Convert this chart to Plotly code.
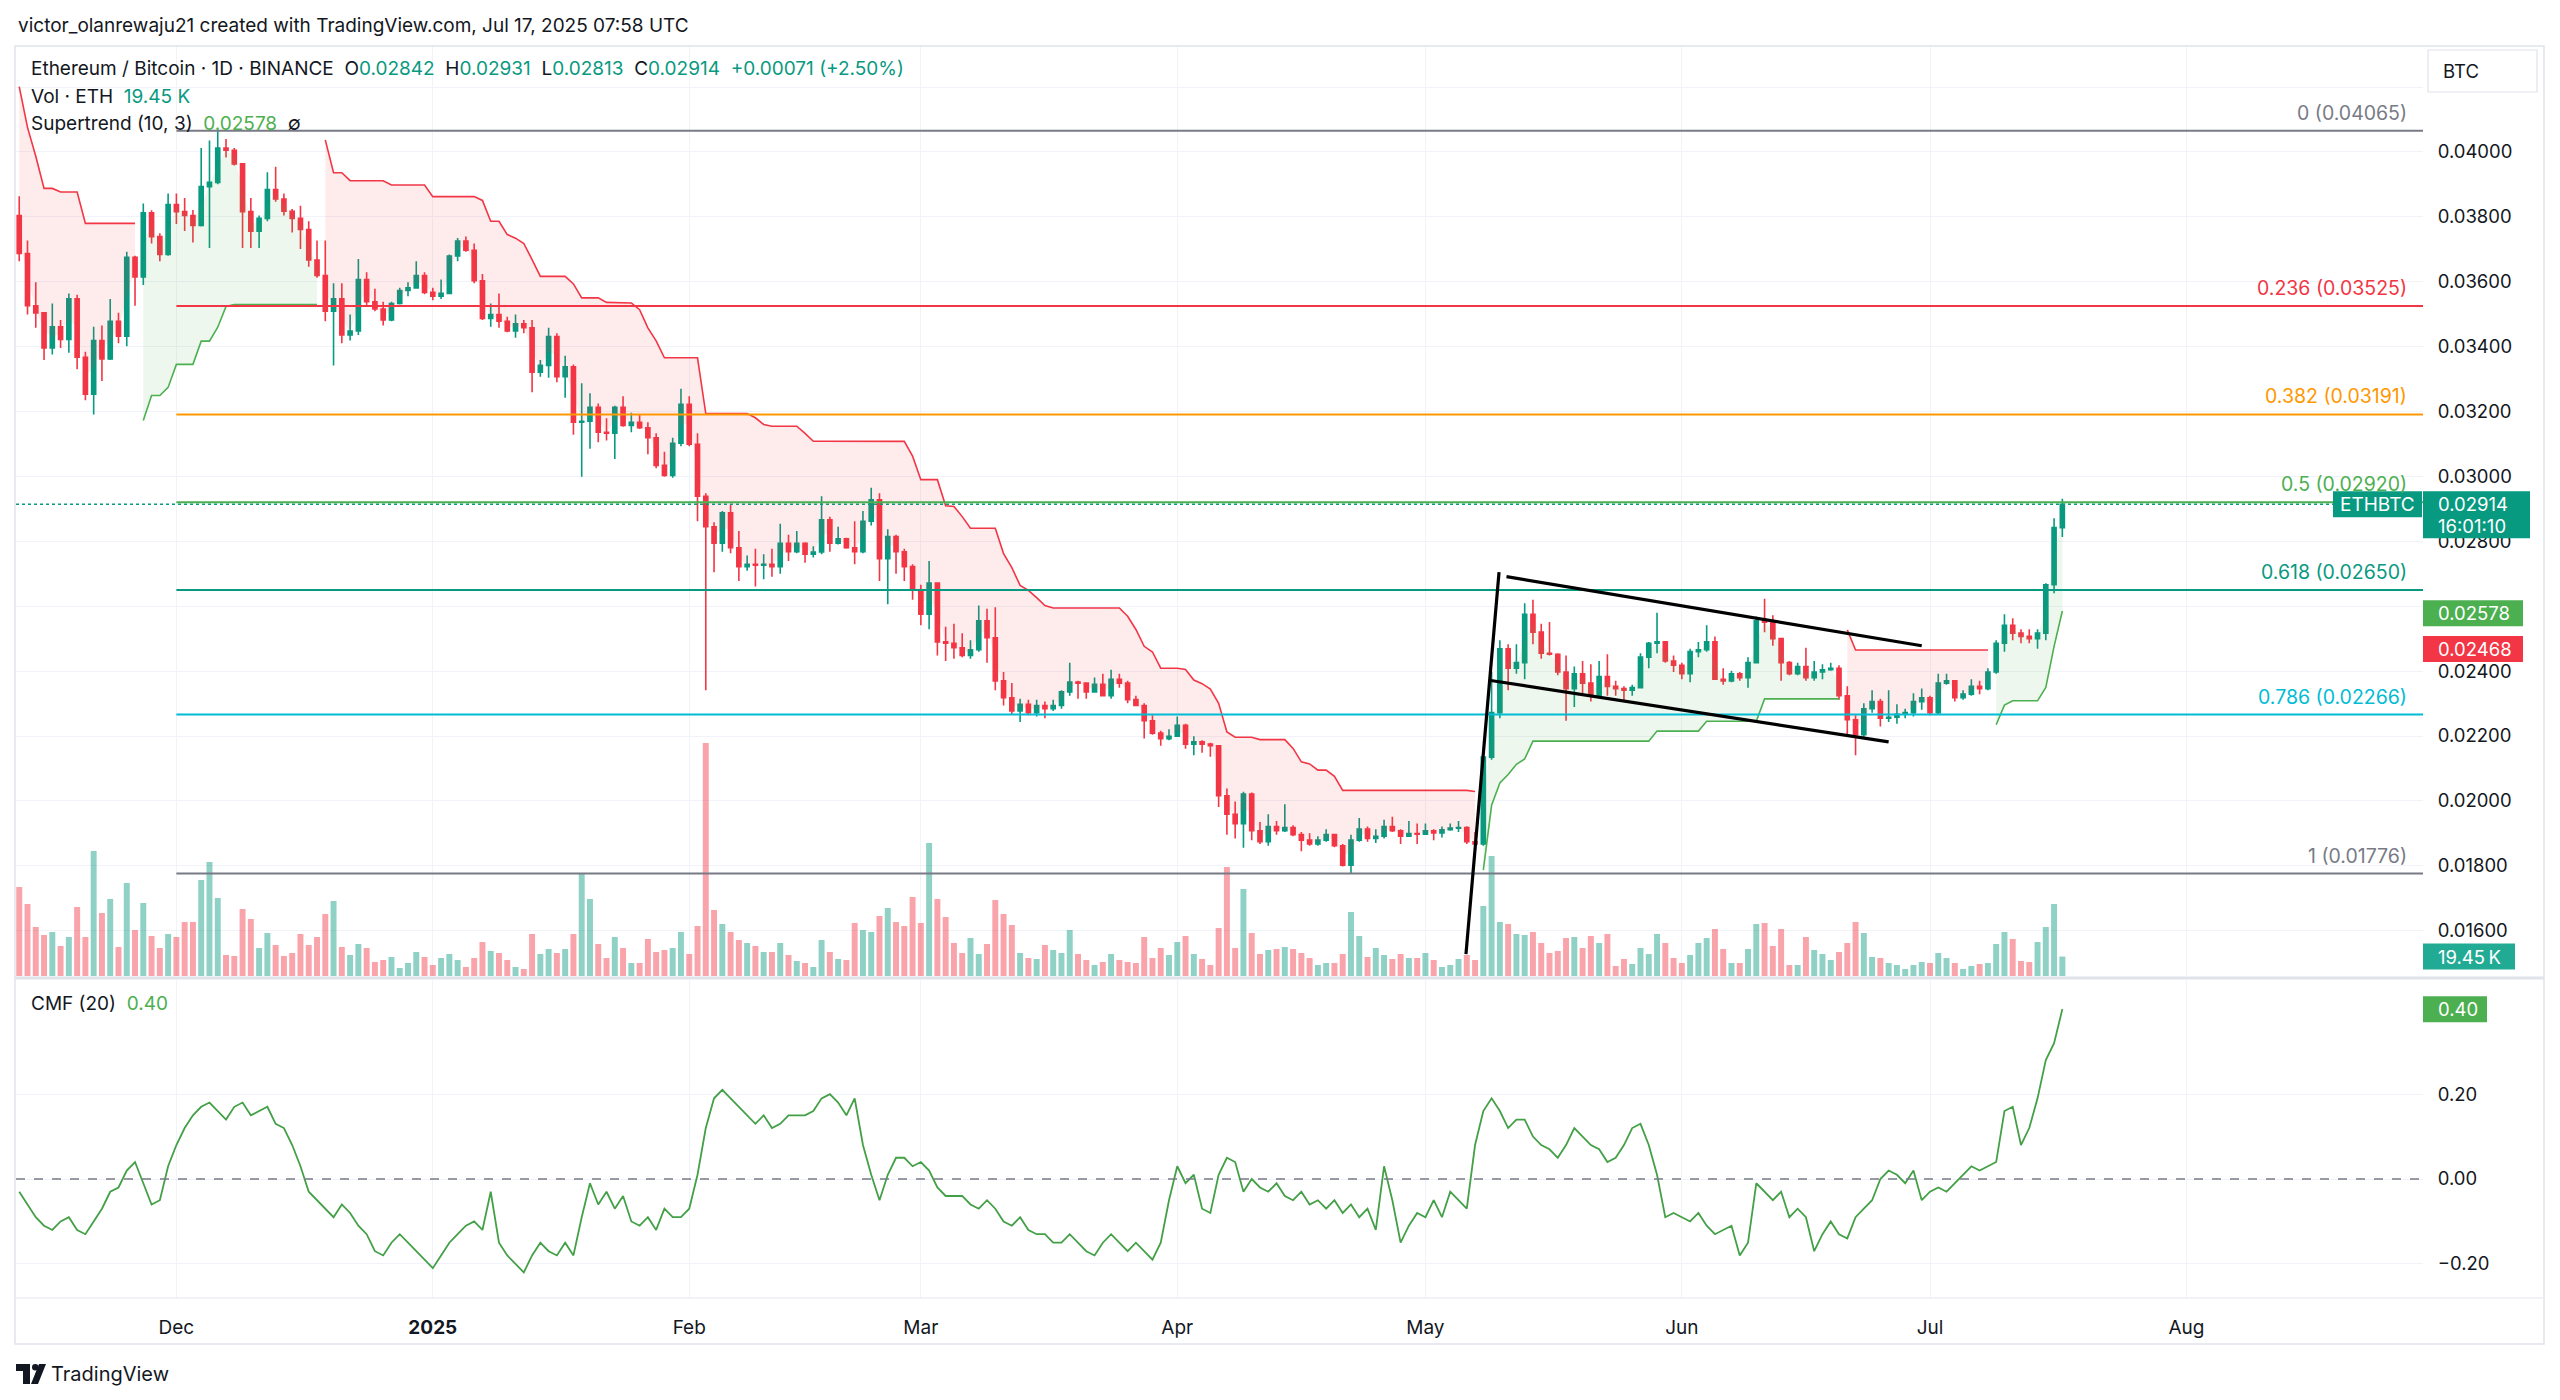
import pandas as pd
import plotly.graph_objects as go

W, H = 2560, 1400

# ---------------- data ----------------
dates = pd.date_range("2024-11-12", "2025-07-17", freq="D")
first_open = 0.03804
atr_seed = 0.00146   # ATR before the first visible bar, inferred from the supertrend band

close = [
    .03687, .03526, .03504, .03396, .03461, .03422, .03547, .03367, .03253, .03419, .03362, .03478, .03432, .03675, .03615, .03812, .03739, .03684, .03838,
    .03816, .03804, .03773, .03893, .03906, .04012, .04005, .03963, .03816, .03756, .03795, .03884, .03855, .03817, .03795, .03761, .03667, .03619, .03509, .03547, .03436, .03448, .03607, .03538, .03516, .03482, .03533, .03573, .03581, .03619, .03567,
    .03555, .03564, .03679, .03725, .03697, .03603, .03487, .03499, .03478, .03448, .03470, .03458, .03321, .03342, .03431, .03307, .03338, .03167, .03170, .03213, .03136, .03133, .03213, .03157, .03167, .03150, .03119, .03034, .03003, .03102, .03222,
    .03099, .02939, .02845, .02794, .02888, .02780, .02722, .02729, .02726, .02729, .02722, .02794, .02768, .02794, .02760, .02767, .02866, .02794, .02808, .02780, .02768, .02862, .02928, .02746, .02815, .02768, .02722, .02649,
    .02575, .02671, .02490, .02486, .02472, .02448, .02466, .02555, .02503, .02370, .02318, .02277, .02298, .02272, .02294, .02284, .02294, .02336, .02366, .02363, .02336, .02359, .02324, .02375, .02363, .02312, .02294, .02247, .02209, .02192, .02199,
    .02233, .02175, .02182, .02175, .02170, .02016, .01959, .01930, .02021, .01908, .01874, .01921, .01908, .01918, .01896, .01879, .01867, .01879, .01896, .01862, .01802, .01879, .01913, .01884, .01891, .01921, .01908, .01891, .01899, .01897,
    .01908, .01901, .01911, .01916, .01918, .01874, .01867, .02135, .02272, .02469, .02409, .02426, .02575, .02520, .02455, .02452, .02397, .02346, .02392, .02363, .02324, .02383, .02353, .02346, .02341, .02349, .02443, .02486, .02490, .02431, .02418,
    .02392, .02460, .02466, .02490, .02375, .02370, .02392, .02380, .02426, .02555, .02551, .02500, .02426, .02392, .02414, .02380, .02397, .02404, .02409, .02324, .02250, .02204, .02284, .02306, .02255, .02258, .02267, .02272, .02306, .02318,
    .02272, .02363, .02370, .02318, .02329, .02353, .02346, .02397, .02486, .02541, .02517, .02507, .02500, .02517, .02666, .02842, .02914,
]

high = [
    .03863, .03727, .03598, .03504, .03533, .03482, .03564, .03560, .03384, .03461, .03465, .03547, .03504, .03692, .03680, .03841, .03820, .03749, .03872,
    .03872, .03858, .03821, .04012, .04035, .04065, .04040, .04012, .03963, .03858, .03804, .03937, .03954, .03872, .03824, .03834, .03786, .03727, .03727, .03595, .03595, .03499, .03670, .03629, .03578, .03538, .03538, .03581, .03598, .03663, .03629,
    .03581, .03607, .03684, .03735, .03739, .03718, .03624, .03533, .03564, .03492, .03499, .03482, .03482, .03359, .03458, .03441, .03372, .03345, .03287, .03256, .03225, .03179, .03218, .03247, .03196, .03191, .03167, .03133, .03076, .03119, .03270,
    .03247, .03133, .02948, .02859, .02893, .02914, .02832, .02756, .02777, .02760, .02777, .02854, .02820, .02832, .02797, .02785, .02939, .02876, .02845, .02811, .02862, .02893, .02965, .02948, .02837, .02820, .02777, .02729,
    .02666, .02739, .02674, .02537, .02546, .02517, .02495, .02602, .02592, .02597, .02397, .02363, .02315, .02312, .02312, .02306, .02312, .02341, .02426, .02370, .02360, .02380, .02392, .02404, .02392, .02370, .02324, .02301, .02264, .02216, .02221,
    .02260, .02238, .02199, .02187, .02179, .02170, .02038, .01998, .02028, .02026, .01935, .01959, .01938, .01990, .01925, .01904, .01900, .01891, .01913, .01896, .01867, .01896, .01947, .01921, .01913, .01942, .01951, .01913, .01938, .01930,
    .01930, .01913, .01921, .01930, .01938, .01922, .01904, .02144, .02397, .02495, .02483, .02483, .02609, .02620, .02546, .02551, .02455, .02448, .02414, .02431, .02421, .02431, .02452, .02370, .02353, .02358, .02455, .02490, .02580, .02488, .02448,
    .02426, .02469, .02490, .02541, .02507, .02409, .02401, .02397, .02443, .02568, .02623, .02572, .02500, .02431, .02426, .02472, .02431, .02421, .02426, .02418, .02353, .02264, .02301, .02341, .02315, .02341, .02298, .02284, .02332, .02346,
    .02324, .02392, .02392, .02370, .02341, .02375, .02370, .02409, .02495, .02575, .02563, .02529, .02529, .02529, .02671, .02871, .02931,
]

low = [
    .03663, .03499, .03458, .03359, .03376, .03396, .03381, .03330, .03235, .03191, .03294, .03359, .03410, .03401, .03526, .03590, .03718, .03663, .03680,
    .03778, .03756, .03721, .03770, .03704, .03900, .03983, .03958, .03704, .03704, .03704, .03786, .03846, .03804, .03752, .03701, .03646, .03612, .03478, .03342, .03410, .03419, .03436, .03526, .03509, .03465, .03478, .03530, .03555, .03578, .03561,
    .03543, .03547, .03561, .03663, .03692, .03595, .03482, .03461, .03458, .03444, .03427, .03441, .03259, .03307, .03304, .03290, .03242, .03128, .02999, .03085, .03105, .03111, .03054, .03153, .03136, .03146, .03068, .03025, .02999, .02996, .03093,
    .03093, .02862, .02341, .02705, .02768, .02763, .02678, .02709, .02661, .02683, .02691, .02700, .02739, .02763, .02734, .02750, .02760, .02768, .02790, .02777, .02729, .02763, .02849, .02678, .02606, .02700, .02678, .02620,
    .02541, .02529, .02448, .02431, .02438, .02443, .02438, .02460, .02426, .02341, .02294, .02267, .02243, .02264, .02260, .02255, .02277, .02284, .02324, .02315, .02315, .02333, .02324, .02315, .02349, .02301, .02294, .02192, .02204, .02170, .02187,
    .02199, .02161, .02141, .02148, .02136, .01981, .01896, .01884, .01856, .01879, .01867, .01862, .01896, .01904, .01891, .01845, .01862, .01862, .01874, .01857, .01798, .01776, .01874, .01874, .01870, .01884, .01904, .01867, .01891, .01867,
    .01896, .01879, .01887, .01908, .01904, .01867, .01862, .01862, .02127, .02255, .02341, .02392, .02375, .02483, .02438, .02448, .02387, .02247, .02289, .02332, .02306, .02318, .02324, .02324, .02306, .02324, .02346, .02409, .02455, .02426, .02397,
    .02375, .02366, .02443, .02460, .02375, .02358, .02366, .02370, .02349, .02426, .02520, .02478, .02370, .02387, .02387, .02370, .02370, .02375, .02401, .02312, .02199, .02141, .02195, .02272, .02229, .02243, .02238, .02255, .02260, .02281,
    .02264, .02267, .02358, .02306, .02312, .02324, .02329, .02341, .02392, .02460, .02495, .02486, .02486, .02469, .02495, .02640, .02813,
]

volume_k = [
    89, 72, 49, 41, 44, 30, 39, 69, 39, 125, 63, 77, 29, 93, 46, 73, 40, 28, 42,
    39, 54, 54, 96, 114, 78, 21, 20, 67, 57, 28, 43, 31, 20, 23, 42, 31, 39, 62, 75, 29, 21, 32, 28, 14, 16, 19, 8, 13, 24, 19,
    11, 18, 22, 16, 9, 18, 34, 25, 23, 16, 9, 7, 42, 22, 27, 23, 27, 42, 102, 77, 32, 18, 39, 28, 13, 13, 37, 24, 26, 28, 44,
    22, 50, 233, 66, 52, 44, 36, 33, 30, 24, 24, 33, 21, 15, 13, 9, 36, 24, 17, 16, 53, 46, 44, 60, 68, 54, 50, 79,
    53, 133, 77, 59, 33, 23, 38, 22, 32, 76, 62, 51, 23, 18, 17, 31, 26, 23, 46, 22, 16, 11, 14, 22, 16, 14, 13, 39, 18, 28, 21,
    34, 40, 22, 17, 11, 48, 109, 28, 87, 43, 22, 26, 27, 29, 27, 23, 18, 11, 13, 13, 22, 64, 40, 19, 28, 21, 17, 22, 18, 18,
    23, 16, 9, 11, 17, 21, 16, 70, 120, 54, 52, 42, 41, 44, 33, 23, 25, 38, 39, 28, 40, 33, 42, 10, 17, 12, 28, 22, 42, 33, 18,
    13, 21, 33, 38, 47, 27, 13, 13, 27, 52, 53, 30, 47, 11, 11, 39, 26, 22, 16, 24, 33, 54, 43, 19, 18, 13, 11, 7, 11, 14,
    13, 23, 18, 13, 7, 10, 12, 13, 32, 44, 37, 15, 14, 34, 49, 72, 19.45,
]

cmf = [
    -0.03, -0.06, -0.09, -0.11, -0.12, -0.10, -0.09, -0.12, -0.13, -0.10, -0.07,
    -0.03, -0.02, 0.02, 0.04, -0.01, -0.06, -0.05, 0.03, 0.08, 0.12, 0.15, 0.17, 0.18, 0.16, 0.14, 0.17, 0.18, 0.15, 0.16, 0.17, 0.13, 0.12, 0.08, 0.03,
    -0.03, -0.05, -0.07, -0.09, -0.06, -0.08, -0.11, -0.13, -0.17, -0.18, -0.15, -0.13, -0.15, -0.17, -0.19, -0.21, -0.18, -0.15, -0.13, -0.11, -0.10, -0.12,
    -0.03, -0.15, -0.18, -0.20, -0.22, -0.18, -0.15, -0.17, -0.18, -0.15, -0.18, -0.09, -0.01, -0.06, -0.03, -0.07, -0.04, -0.10, -0.11, -0.09, -0.12, -0.07,
    -0.09, -0.09, -0.07, 0.01, 0.12, 0.19, 0.21, 0.19, 0.17,
    0.15, 0.13, 0.15, 0.12, 0.13, 0.15, 0.15, 0.15, 0.16, 0.19, 0.20, 0.18, 0.15, 0.19, 0.08, 0.01, -0.05, 0.01, 0.05, 0.05, 0.03, 0.04, 0.02, -0.02, -0.04,
    -0.04, -0.04, -0.06, -0.07, -0.05, -0.07, -0.10, -0.11, -0.09, -0.12, -0.13, -0.13, -0.15, -0.15, -0.13, -0.15, -0.17, -0.18, -0.15, -0.13, -0.15, -0.17,
    -0.15, -0.17, -0.19, -0.15, -0.05, 0.03, -0.01, 0.01, -0.07, -0.08, 0.01, 0.05, 0.04, -0.03, 0.00, -0.02, -0.03, -0.01, -0.04, -0.05, -0.03, -0.06, -0.05,
    -0.07, -0.05, -0.08, -0.06, -0.09, -0.07, -0.12,
    0.03, -0.05, -0.15, -0.11, -0.08, -0.09, -0.05, -0.09, -0.03, -0.05, -0.07, 0.08, 0.16, 0.19, 0.16, 0.12, 0.14, 0.14, 0.10, 0.08, 0.07, 0.05, 0.08, 0.12,
    0.10, 0.08, 0.07, 0.04, 0.05, 0.08, 0.12, 0.13, 0.08, 0.01, -0.09, -0.08, -0.09, -0.10, -0.08, -0.11, -0.13, -0.12, -0.11, -0.18, -0.15, -0.01, -0.03,
    -0.05, -0.03, -0.09, -0.07, -0.09, -0.17, -0.13, -0.10, -0.13, -0.14, -0.09, -0.07, -0.05, 0.00, 0.02, 0.01, -0.01, 0.02, -0.05, -0.03, -0.02, -0.03,
    -0.01, 0.01, 0.03, 0.02, 0.03, 0.04, 0.16, 0.17,
    0.08, 0.12, 0.19, 0.28, 0.32, 0.40,
]

fib_levels = [0, 0.236, 0.382, 0.5, 0.618, 0.786, 1]
fib_prices = [0.04065, 0.03525, 0.03191, 0.02920, 0.02650, 0.02266, 0.01776]
fib_colors = ["#787b86", "#f23645", "#ff9800", "#4caf50", "#089981", "#00bcd4", "#787b86"]
fib_start = "2024-12-01"

month_ticks = ["2024-12-01", "2025-01-01", "2025-02-01", "2025-03-01", "2025-04-01",
               "2025-05-01", "2025-06-01", "2025-07-01", "2025-08-01"]
month_labels = ["Dec", "<b>2025</b>", "Feb", "Mar", "Apr", "May", "Jun", "Jul", "Aug"]
price_ticks = [0.016, 0.018, 0.020, 0.022, 0.024, 0.026, 0.028, 0.030,
               0.032, 0.034, 0.036, 0.038, 0.040, 0.042]
price_hidden = [0.026, 0.042]      # gridline only, label covered / absent in the reference
cmf_ticks = [-0.2, 0.0, 0.2]
cmf_ticklabels = ["\u22120.20", "0.00", "0.20"]

# user-drawn flag pattern (date, price)
flag_pole = [("2025-05-05 21:36", 0.01528), ("2025-05-09 21:36", 0.02705)]
flag_upper = [("2025-05-10 19:12", 0.02691), ("2025-06-30 00:00", 0.02478)]
flag_lower = [("2025-05-08 21:36", 0.02371), ("2025-06-26 00:00", 0.02182)]

last_close = 0.02914
st_up_last = 0.02578
st_dn_last = 0.02468
cmf_last = 0.40
vol_last = 19.45

# ---------------- geometry ----------------
X = lambda x: x / W
Y = lambda y: 1 - y / H
PLOT_L, PLOT_R = 16, 2423
MAIN_T, MAIN_B = 46, 976
CMF_T, CMF_B = 980, 1298
P_REF_Y, P_SCALE = 151.9, 32450.0          # y(px) = P_REF_Y + (0.04 - p) * P_SCALE
price_top = 0.04 + (P_REF_Y - MAIN_T) / P_SCALE
price_bot = 0.04 - (MAIN_B - P_REF_Y) / P_SCALE
C_ZERO_Y, C_SCALE = 1179.0, 424.6
cmf_top = (C_ZERO_Y - CMF_T) / C_SCALE
cmf_bot = (C_ZERO_Y - CMF_B) / C_SCALE
base = pd.Timestamp("2024-12-01")
x_lo = base + pd.Timedelta(days=-19.39)
x_hi = base + pd.Timedelta(days=271.6)

def price_py(p):
    return P_REF_Y + (0.04 - p) * P_SCALE

# ---------------- supertrend (10, 3) ----------------
n = len(close)
opens = [first_open] + close[:-1]
tr = [high[0] - low[0]] + [max(high[i] - low[i], abs(high[i] - close[i - 1]), abs(low[i] - close[i - 1]))
                           for i in range(1, n)]
atr = [atr_seed]
for i in range(1, n):
    atr.append((atr[-1] * 9 + tr[i]) / 10)
ub_l, lb_l, st, dirn = [0.0] * n, [0.0] * n, [0.0] * n, [1] * n
for i in range(n):
    hl2 = (high[i] + low[i]) / 2
    ub = hl2 + 3 * atr[i]
    lb = hl2 - 3 * atr[i]
    if i == 0:
        d = 1
    else:
        if not (lb > lb_l[i - 1] or close[i - 1] < lb_l[i - 1]):
            lb = lb_l[i - 1]
        if not (ub < ub_l[i - 1] or close[i - 1] > ub_l[i - 1]):
            ub = ub_l[i - 1]
        if st[i - 1] == ub_l[i - 1]:
            d = -1 if close[i] > ub else 1
        else:
            d = 1 if close[i] < lb else -1
    ub_l[i], lb_l[i], dirn[i] = ub, lb, d
    st[i] = lb if d == -1 else ub

body_mid = [(o + c) / 2 for o, c in zip(opens, close)]

fig = go.Figure()

# volume (overlay axis)
vol_colors = ["rgba(8,153,129,0.45)" if c >= o else "rgba(242,54,69,0.45)" for o, c in zip(opens, close)]
fig.add_trace(go.Bar(x=dates, y=volume_k, marker=dict(color=vol_colors, line=dict(width=0)),
                     width=0.72 * 86400000, xaxis="x2", yaxis="y3", hoverinfo="skip"))

# supertrend segments
s = 0
for i in range(1, n + 1):
    if i == n or dirn[i] != dirn[s]:
        seg = slice(s, i)
        up = dirn[s] == -1
        lc = "#4caf50" if up else "#f23645"
        fc = "rgba(76,175,80,0.10)" if up else "rgba(242,54,69,0.10)"
        fig.add_trace(go.Scatter(x=dates[seg], y=body_mid[seg], mode="lines", line=dict(width=0),
                                 xaxis="x2", yaxis="y", hoverinfo="skip"))
        fig.add_trace(go.Scatter(x=dates[seg], y=st[seg], mode="lines", line=dict(color=lc, width=1.6),
                                 fill="tonexty", fillcolor=fc, xaxis="x2", yaxis="y", hoverinfo="skip"))
        s = i

# candles
fig.add_trace(go.Candlestick(
    x=dates, open=opens, high=high, low=low, close=close, xaxis="x2", yaxis="y",
    increasing=dict(line=dict(color="#089981", width=1.6), fillcolor="#089981"),
    decreasing=dict(line=dict(color="#f23645", width=1.6), fillcolor="#f23645"),
    whiskerwidth=0, hoverinfo="none"))

# CMF
fig.add_trace(go.Scatter(x=dates, y=cmf, mode="lines", line=dict(color="#43a047", width=1.8),
                         xaxis="x", yaxis="y2", hoverinfo="skip"))

shapes = []
annotations = []
FONT = "Inter, Roboto, 'Noto Sans', sans-serif"
DARK = "#131722"

# fib lines + labels
for lvl, pr, col in zip(fib_levels, fib_prices, fib_colors):
    shapes.append(dict(type="line", xref="x2", yref="y", x0=fib_start, x1=x_hi, y0=pr, y1=pr,
                       line=dict(color=col, width=2)))
    annotations.append(dict(xref="paper", yref="y", x=X(2409), y=pr, xanchor="right", yanchor="bottom",
                            yshift=4, showarrow=False, text=f"{lvl:g} ({pr:.5f})",
                            font=dict(family=FONT, size=19.5, color=col)))

# flag pattern
for seg in (flag_pole, flag_upper, flag_lower):
    shapes.append(dict(type="line", xref="x2", yref="y", x0=seg[0][0], y0=seg[0][1], x1=seg[1][0], y1=seg[1][1],
                       line=dict(color="#000000", width=3.2)))

# dotted last-price line
shapes.append(dict(type="line", xref="paper", yref="y", x0=X(PLOT_L), x1=X(2333), y0=last_close, y1=last_close,
                   line=dict(color="#089981", width=1.5, dash="dot")))

# CMF zero dashed line
shapes.append(dict(type="line", xref="paper", yref="y2", x0=X(PLOT_L), x1=X(PLOT_R), y0=0, y1=0,
                   line=dict(color="#787b86", width=1.3, dash="dash")))

# frame and separators
shapes.append(dict(type="rect", xref="paper", yref="paper", x0=X(15), x1=X(2544), y0=Y(1344), y1=Y(46),
                   line=dict(color="#e0e3eb", width=1.5)))
shapes.append(dict(type="line", xref="paper", yref="paper", x0=X(15), x1=X(2544), y0=Y(978), y1=Y(978),
                   line=dict(color="#e0e3eb", width=3)))
shapes.append(dict(type="line", xref="paper", yref="paper", x0=X(15), x1=X(2544), y0=Y(1298), y1=Y(1298),
                   line=dict(color="#eceef3", width=1.5)))

# badges
def badge(y_top, y_bot, x0, x1, color):
    shapes.append(dict(type="rect", xref="paper", yref="paper", x0=X(x0), x1=X(x1), y0=Y(y_bot), y1=Y(y_top),
                       fillcolor=color, line=dict(width=0), layer="above"))

def btext(x, y, txt, size=18.5, color="white", anchor="left"):
    annotations.append(dict(xref="paper", yref="paper", x=X(x), y=Y(y), xanchor=anchor, yanchor="middle",
                            showarrow=False, text=txt, font=dict(family=FONT, size=size, color=color)))

yc = price_py(last_close)
badge(yc - 13, yc + 13, 2333, 2422, "#089981")
btext(2377, yc, "ETHBTC", anchor="center", size=19)
badge(yc - 13, yc + 34, 2423, 2530, "#089981")
btext(2436, yc, f"{last_close:.5f}")
btext(2436, yc + 22, "16:01:10")

yu = price_py(st_up_last)
badge(yu - 13, yu + 13, 2423, 2523, "#4caf50")
btext(2436, yu, f"{st_up_last:.5f}")
yd = price_py(st_dn_last)
badge(yd - 13, yd + 13, 2423, 2523, "#f23645")
btext(2436, yd, f"{st_dn_last:.5f}")

yv = MAIN_B - vol_last * (MAIN_B - MAIN_T) / 930
badge(yv - 13, yv + 13, 2423, 2515, "#22ab94")
btext(2436, yv, f"{vol_last:.2f}\u2009K")

ycm = C_ZERO_Y - cmf_last * C_SCALE
badge(ycm - 13, ycm + 13, 2423, 2487, "#4caf50")
btext(2436, ycm, f"{cmf_last:.2f}")

# BTC box
shapes.append(dict(type="rect", xref="paper", yref="paper", x0=X(2428), x1=X(2537), y0=Y(92), y1=Y(50),
                   line=dict(color="#e0e3eb", width=1.2), fillcolor="white"))
btext(2441, 71, "BTC", size=18.5, color=DARK)

# header texts
G = "#089981"
nb = "\u00a0"
def col(t, c):
    return f"<span style='color:{c}'>{t}</span>"

btext(16, 25, "victor_olanrewaju21 created with TradingView.com, Jul 17, 2025 07:58 UTC", size=19, color=DARK)
line1 = ("Ethereum / Bitcoin · 1D · BINANCE" + nb * 2 + "O" + col("0.02842", G) + nb * 2 + "H" + col("0.02931", G)
         + nb * 2 + "L" + col("0.02813", G) + nb * 2 + "C" + col("0.02914", G) + nb * 2 + col("+0.00071 (+2.50%)", G))
btext(29, 69, line1, size=19, color=DARK)
btext(29, 96, "Vol · ETH" + nb * 2 + col("19.45" + nb + "K", G), size=19, color=DARK)
btext(29, 123, "Supertrend (10, 3)" + nb * 2 + col(f"{st_up_last:.5f}", "#4caf50") + nb * 2 + "\u2205",
      size=19, color=DARK)
btext(29, 1003, "CMF (20)" + nb * 2 + col(f"{cmf_last:.2f}", "#4caf50"), size=19, color=DARK)

# TradingView logo
shapes.append(dict(type="rect", xref="paper", yref="paper", x0=X(16), x1=X(30), y0=Y(1371), y1=Y(1364),
                   fillcolor="#131722", line=dict(width=0)))
shapes.append(dict(type="rect", xref="paper", yref="paper", x0=X(23), x1=X(30), y0=Y(1384), y1=Y(1364),
                   fillcolor="#131722", line=dict(width=0)))
shapes.append(dict(type="circle", xref="paper", yref="paper", x0=X(32), x1=X(38.5), y0=Y(1370.5), y1=Y(1364),
                   fillcolor="#131722", line=dict(width=0)))
shapes.append(dict(type="path", xref="paper", yref="paper",
                   path=f"M {X(39)} {Y(1364)} L {X(46)} {Y(1364)} L {X(38)} {Y(1384)} L {X(31)} {Y(1384)} Z",
                   fillcolor="#131722", line=dict(width=0)))
btext(49, 1374, "TradingView", size=20, color=DARK)

fig.update_layout(
    width=W, height=H, margin=dict(l=0, r=0, t=0, b=0, autoexpand=False),
    paper_bgcolor="white", plot_bgcolor="white", showlegend=False,
    font=dict(family=FONT, size=18, color=DARK),
    xaxis=dict(domain=[X(PLOT_L), X(PLOT_R)], anchor="y2", type="date", range=[x_lo, x_hi],
               tickvals=month_ticks, ticktext=month_labels, showgrid=True, gridcolor="#f0f3fa", gridwidth=1,
               zeroline=False, showline=False, ticks="outside", ticklen=12, tickcolor="rgba(0,0,0,0)",
               tickfont=dict(family=FONT, size=19, color=DARK), rangeslider=dict(visible=False), fixedrange=True),
    xaxis2=dict(domain=[X(PLOT_L), X(PLOT_R)], anchor="y", type="date", matches="x", range=[x_lo, x_hi],
                tickvals=month_ticks, showticklabels=False, showgrid=True, gridcolor="#f0f3fa", gridwidth=1,
                zeroline=False, showline=False, rangeslider=dict(visible=False)),
    yaxis=dict(domain=[Y(MAIN_B), Y(MAIN_T)], anchor="x2", side="right", range=[price_bot, price_top],
               tickvals=price_ticks,
               ticktext=["" if any(abs(v - h) < 1e-9 for h in price_hidden) else f"{v:.5f}" for v in price_ticks],
               showgrid=True, gridcolor="#f0f3fa", gridwidth=1, zeroline=False, showline=False,
               ticks="outside", ticklen=10, tickcolor="rgba(0,0,0,0)",
               tickfont=dict(family=FONT, size=18.5, color=DARK)),
    yaxis2=dict(domain=[Y(CMF_B), Y(CMF_T)], anchor="x", side="right", range=[cmf_bot, cmf_top],
                tickvals=cmf_ticks, ticktext=cmf_ticklabels, showgrid=True, gridcolor="#f0f3fa",
                zeroline=False, showline=False, ticks="outside", ticklen=10, tickcolor="rgba(0,0,0,0)",
                tickfont=dict(family=FONT, size=18.5, color=DARK)),
    yaxis3=dict(overlaying="y", anchor="x2", range=[0, 930], visible=False, showgrid=False),
    shapes=shapes, annotations=annotations,
)

fig.write_html("out.html", config={"displayModeBar": False})
